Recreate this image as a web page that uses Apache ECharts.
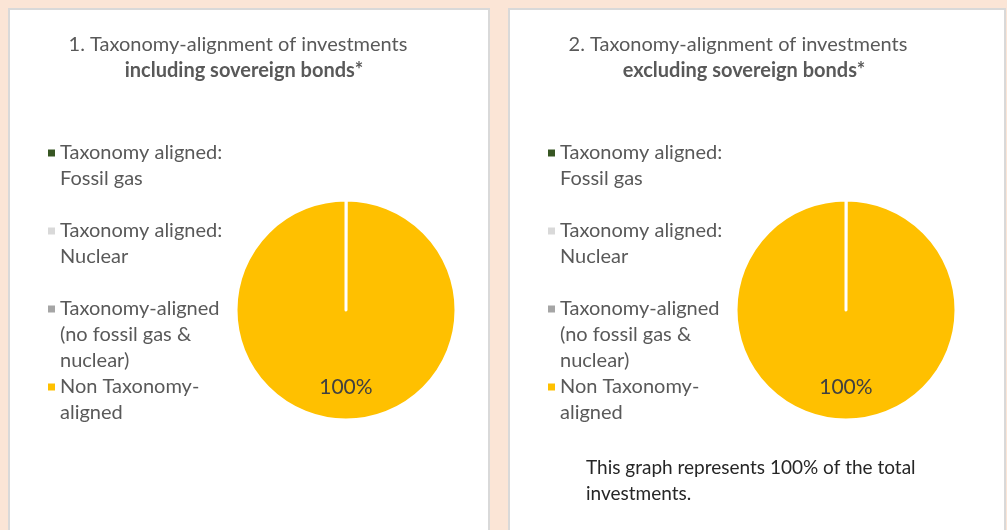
<!DOCTYPE html>
<html><head><meta charset="utf-8">
<script src="https://cdn.jsdelivr.net/npm/echarts@6/dist/echarts.min.js"></script>
<style>html,body{margin:0;padding:0;background:#FBE5D6;}#c{width:1007px;height:530px;}</style>
</head><body><div id="c"></div>
<script>
const categories = ['Taxonomy aligned:\nFossil gas', 'Taxonomy aligned:\nNuclear', 'Taxonomy-aligned\n(no fossil gas &\nnuclear)', 'Non Taxonomy-\naligned'];
const colors = ['#375623', '#D9D9D9', '#A5A5A5', '#FFC000'];
const valuesIncl = [0, 0, 0, 100];
const valuesExcl = [0, 0, 0, 100];
const titles1 = ['1. Taxonomy-alignment of investments', 'including sovereign bonds*'];
const titles2 = ['2. Taxonomy-alignment of investments', 'excluding sovereign bonds*'];
const note = 'This graph represents 100% of the total\ninvestments.';

const FONT = 'Lato';
const chart = echarts.init(document.getElementById('c'));

const iconCenters = [153, 231, 309, 387];
function legendsFor(iconLeft) {
  return categories.map((name, i) => {
    const n = name.split('\n').length;
    return {
      data: [name],
      orient: 'vertical',
      left: iconLeft,
      top: iconCenters[i] - 26 * n + 13,
      padding: 0,
      itemWidth: 7, itemHeight: 7,
      icon: 'rect',
      itemStyle: { borderWidth: 0 },
      selectedMode: false,
      formatter: t => '\n'.repeat(n - 1) + t,
      textStyle: { fontFamily: FONT, fontSize: 20, color: '#595959', lineHeight: 26 }
    };
  });
}

function pieSeries(values, cx) {
  return {
    type: 'pie',
    center: [cx, 310],
    radius: 110,
    startAngle: 90,
    clockwise: true,
    minAngle: 0.05,
    silent: true,
    animation: false,
    itemStyle: { borderColor: '#ffffff', borderWidth: 3 },
    label: {
      show: true, position: 'inside',
      formatter: p => p.value > 0 ? Math.round(p.percent) + '%' : '',
      fontFamily: FONT, fontSize: 21, color: '#404040'
    },
    labelLayout: { dy: 19 },
    labelLine: { show: false },
    data: categories.map((c, i) => ({ name: c, value: values[i], itemStyle: { color: colors[i] } }))
  };
}

function titleText(lines, cx) {
  return [
    { type: 'text', x: cx, y: 45, style: { text: lines[0], fontFamily: FONT, fontSize: 20, fill: '#595959', align: 'center', verticalAlign: 'middle' } },
    { type: 'text', x: cx + 6, y: 71, style: { text: lines[1], fontFamily: FONT, fontSize: 20, fontWeight: 'bold', fill: '#595959', align: 'center', verticalAlign: 'middle' } }
  ];
}

chart.setOption({
  backgroundColor: '#FBE5D6',
  animation: false,
  graphic: [
    { type: 'rect', shape: { x: 9, y: 9, width: 480, height: 530 }, style: { fill: '#ffffff', stroke: '#D9D9D9', lineWidth: 2 }, z: -10 },
    { type: 'rect', shape: { x: 509, y: 9, width: 496, height: 530 }, style: { fill: '#ffffff', stroke: '#D9D9D9', lineWidth: 2 }, z: -10 },
    ...titleText(titles1, 238),
    ...titleText(titles2, 738),
    { type: 'text', x: 586, y: 455, style: { text: note, fontFamily: FONT, fontSize: 19, fill: '#262626', lineHeight: 26, align: 'left', verticalAlign: 'top' } }
  ],
  legend: [...legendsFor(48), ...legendsFor(548)],
  series: [pieSeries(valuesIncl, 346), pieSeries(valuesExcl, 846)]
});
</script></body></html>
